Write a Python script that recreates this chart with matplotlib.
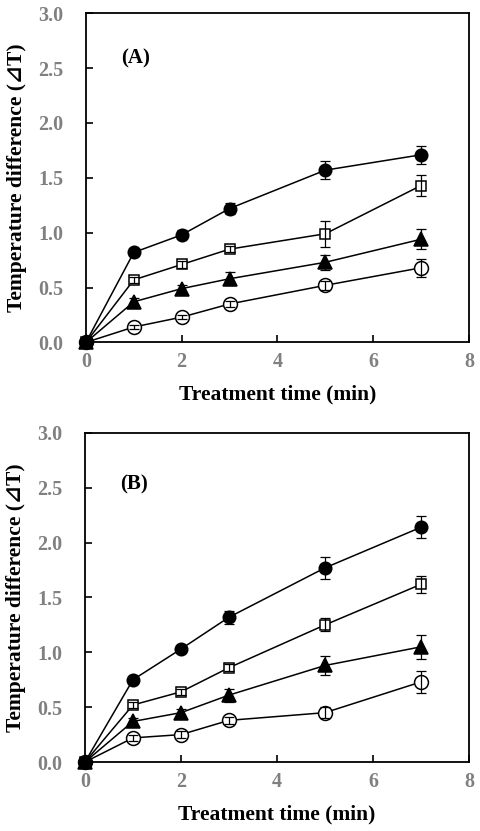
import numpy as np
import matplotlib
matplotlib.use('Agg')
import matplotlib.pyplot as plt

# Treatment times (min)
time = [0, 1, 2, 3, 5, 7]

# Panel A: temperature difference and error bars
a_fcirc = [0, 0.82, 0.98, 1.22, 1.57, 1.71]
a_fcirc_err = [0, 0.03, 0.04, 0.05, 0.08, 0.08]
a_square = [0, 0.57, 0.71, 0.85, 0.99, 1.43]
a_square_err = [0, 0.03, 0.03, 0.03, 0.12, 0.10]
a_tri = [0, 0.37, 0.49, 0.58, 0.73, 0.94]
a_tri_err = [0, 0.03, 0.03, 0.06, 0.07, 0.09]
a_ocirc = [0, 0.14, 0.23, 0.35, 0.52, 0.68]
a_ocirc_err = [0, 0.02, 0.02, 0.03, 0.04, 0.08]

# Panel B
b_fcirc = [0, 0.75, 1.03, 1.32, 1.77, 2.14]
b_fcirc_err = [0, 0.03, 0.03, 0.06, 0.10, 0.10]
b_square = [0, 0.52, 0.64, 0.86, 1.25, 1.62]
b_square_err = [0, 0.03, 0.03, 0.03, 0.06, 0.08]
b_tri = [0, 0.37, 0.45, 0.61, 0.88, 1.05]
b_tri_err = [0, 0.03, 0.03, 0.06, 0.09, 0.11]
b_ocirc = [0, 0.22, 0.25, 0.38, 0.45, 0.73]
b_ocirc_err = [0, 0.03, 0.03, 0.03, 0.05, 0.10]

panels = [
    ('(A)', [(a_fcirc, a_fcirc_err), (a_square, a_square_err), (a_tri, a_tri_err), (a_ocirc, a_ocirc_err)], 0.863),
    ('(B)', [(b_fcirc, b_fcirc_err), (b_square, b_square_err), (b_tri, b_tri_err), (b_ocirc, b_ocirc_err)], 0.842),
]

# marker style per series: (marker, size, face, zorder)
styles = [('o', 9, 'black', 3.6), ('s', 7.5, 'white', 3.2), ('^', 9.5, 'black', 3.8), ('o', 10, 'white', 3.0)]

serif = ['Liberation Serif', 'DejaVu Serif']
plt.rcParams['font.family'] = serif
plt.rcParams['font.weight'] = 'bold'

fig = plt.figure(figsize=(4.8, 8.31), dpi=100)
positions = [[0.179, 0.588, 0.798, 0.396], [0.177, 0.083, 0.800, 0.396]]

for pos, (label, series, ly) in zip(positions, panels):
    ax = fig.add_axes(pos)
    for (vals, err), (mk, ms, fc, z) in zip(series, styles):
        ax.plot(time, vals, color='black', lw=1.1, zorder=2, clip_on=False)
        ax.plot(time, vals, linestyle='none', marker=mk, markersize=ms,
                markerfacecolor=fc, markeredgecolor='black', markeredgewidth=1.1,
                zorder=z, clip_on=False)
        ax.errorbar(time, vals, yerr=err, fmt='none', ecolor='black',
                    elinewidth=0.9, capsize=3.5, capthick=0.9, zorder=4)
    ax.set_xlim(0, 8)
    ax.set_ylim(0, 3.0)
    ax.set_xticks([0, 2, 4, 6, 8])
    ax.set_yticks(np.arange(0, 3.01, 0.5))
    ax.set_yticklabels(['%.1f' % v for v in np.arange(0, 3.01, 0.5)])
    ax.tick_params(direction='in', length=5, width=1.2, labelsize=14.5,
                   labelcolor='#808080', top=False, right=False)
    ax.tick_params(axis='x', pad=7)
    ax.tick_params(axis='y', pad=16)
    for s in ax.spines.values():
        s.set_linewidth(1.3)
    for s in ax.get_xticklabels() + ax.get_yticklabels():
        s.set_fontweight('bold')
    ax.set_xlabel('Treatment time (min)', fontsize=15.5, fontweight='bold', labelpad=9)
    ax.set_ylabel('Temperature difference (⊿T)', fontsize=15.5, fontweight='bold',
                  family=['Liberation Serif', 'DejaVu Sans'])
    ax.yaxis.set_label_coords(-0.153, 0.5)
    ax.text(0.091, ly, label, transform=ax.transAxes, fontsize=15, fontweight='bold',
            va='center', ha='left')

fig.savefig('out.png', dpi=100)
